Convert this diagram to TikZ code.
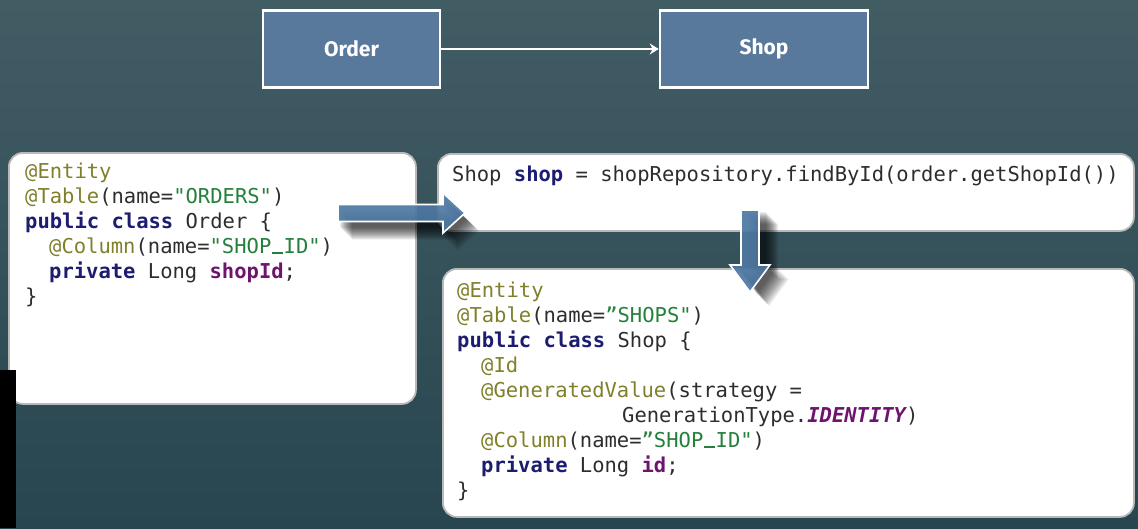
\documentclass[tikz,border=0pt]{standalone}
\usepackage{fontspec}
\setmonofont{DejaVu Sans Mono}
\setsansfont{Fira Sans}
\usetikzlibrary{arrows.meta}

\definecolor{bgtop}{RGB}{66,92,100}
\definecolor{bgbottom}{RGB}{40,70,80}
\definecolor{boxblue}{RGB}{88,120,156}
\definecolor{arrowblue}{RGB}{78,120,162}
\definecolor{codegray}{RGB}{45,45,45}
\definecolor{annotolive}{RGB}{128,128,44}
\definecolor{stringgreen}{RGB}{36,128,58}
\definecolor{keynavy}{RGB}{28,28,112}
\definecolor{fieldpurple}{RGB}{110,20,110}

\newcommand{\codeAnn}[1]{\textcolor{annotolive}{#1}}
\newcommand{\codeStr}[1]{\textcolor{stringgreen}{#1}}
\newcommand{\codeKw}[1]{\textcolor{keynavy}{\bfseries #1}}
\newcommand{\codeVar}[1]{\textcolor{fieldpurple}{\bfseries #1}}
\newcommand{\codeUnder}{\makebox[0.602em]{\rule{0.56em}{1.6pt}}}

\begin{document}
\begin{tikzpicture}
[x=1pt,y=-1pt,
  entityDecorate/.style={draw=white,line width=2.5pt,fill=boxblue,text=white,
    minimum height=77pt,font=\sffamily\bfseries\fontsize{21}{24}\selectfont},
  lineDecorate/.style={-{Stealth[length=9pt,width=11pt]},white,line width=2.5pt},
  codeBox/.style={draw=gray!55,line width=1.8pt,fill=white,rounded corners=14pt,
    anchor=north west,inner sep=0pt},
  codeText/.style={anchor=north west,inner sep=0pt,align=left,text=codegray,
    font=\ttfamily\fontsize{20.5}{25}\selectfont},
  arrowShadow/.style={fill=black,opacity=0.07},
  arrowDecorate/.style={fill=arrowblue,fill opacity=0.92,draw=white,line width=1.6pt},
  hArrow/.pic={
    \foreach \s in {2,...,14}
      \fill[arrowShadow,shift={(\s,\s+4)}] (0,-8.5) -- (105,-8.5) -- (105,-20)
        -- (127,0) -- (105,20) -- (105,8.5) -- (0,8.5) -- cycle;
    \filldraw[arrowDecorate] (0,-8.5) -- (105,-8.5) -- (105,-20)
      -- (127,0) -- (105,20) -- (105,8.5) -- (0,8.5) -- cycle;
  },
  vArrow/.pic={
    \foreach \s in {2,...,14}
      \fill[arrowShadow,shift={(\s+5,\s)}] (-9,0) -- (-9,55) -- (-20,55)
        -- (0,82) -- (20,55) -- (9,55) -- (9,0) -- cycle;
    \filldraw[arrowDecorate] (-9,0) -- (-9,55) -- (-20,55)
      -- (0,82) -- (20,55) -- (9,55) -- (9,0) -- cycle;
  }]
%% background
\shade[top color=bgtop,bottom color=bgbottom] (0,0) rectangle (1138,528);
\useasboundingbox (0,0) rectangle (1138,528);
%% entity boxes
\foreach \nodename/\label/\x/\w in {order/Order/351.5/177, shop/Shop/764/208}
{
  \node (\nodename) at (\x,49) [entityDecorate,minimum width=\w pt] {\label};
}
\draw[lineDecorate] (order) -- (shop);
%% code boxes
\foreach \boxname/\x/\y/\w/\h in {
  ordercode/8/152/407/251, query/437/153/696/77, shopcode/442/268/691/248}
{
  \node (\boxname) at (\x,\y) [codeBox,minimum width=\w pt,minimum height=\h pt] {};
}
\fill[black] (0,370) rectangle (16,528);
%% code
\node (ordertext) at (25,163) [codeText] {%
  \codeAnn{@Entity}\\
  \codeAnn{@Table}(name=\codeStr{"ORDERS"})\\
  \codeKw{public class} Order \{\\
  \hspace*{24pt}\codeAnn{@Column}(name=\codeStr{"SHOP\codeUnder ID"})\\
  \hspace*{24pt}\codeKw{private} Long \codeVar{shopId};\\
  \}};
\node (querytext) at (452,166) [codeText] {%
  Shop \codeKw{shop} = shopRepository.findById(order.getShopId())};
\node (shoptext) at (457,282) [codeText] {%
  \codeAnn{@Entity}\\
  \codeAnn{@Table}(name=\codeStr{”SHOPS"})\\
  \codeKw{public class} Shop \{\\
  \hspace*{24pt}\codeAnn{@Id}\\
  \hspace*{24pt}\codeAnn{@GeneratedValue}(strategy =\\
  \hspace*{165pt}GenerationType.\codeVar{\itshape IDENTITY})\\
  \hspace*{24pt}\codeAnn{@Column}(name=\codeStr{”SHOP\codeUnder ID"})\\
  \hspace*{24pt}\codeKw{private} Long \codeVar{id};\\
  \}};
%% block arrows
\pic at (338,213) {hArrow};
\pic at (750,210) {vArrow};
\end{tikzpicture}
\end{document}
